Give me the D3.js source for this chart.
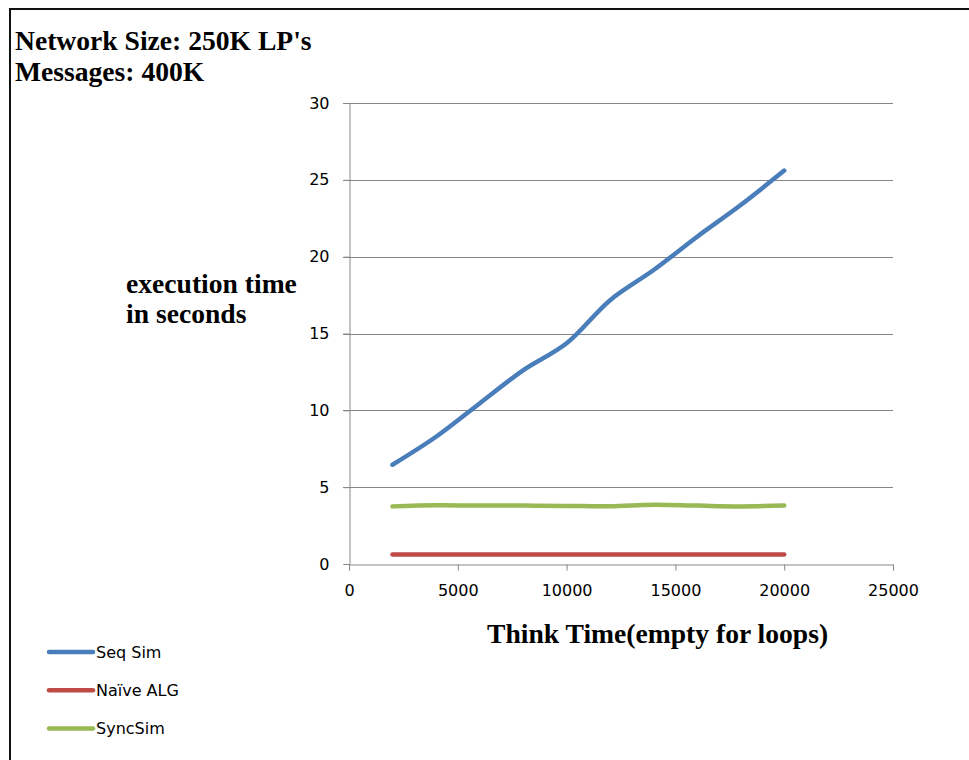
<!DOCTYPE html>
<html>
<head>
<meta charset="utf-8">
<script src="https://cdn.jsdelivr.net/npm/d3@7"></script>
<style>
  html, body { margin: 0; padding: 0; background: #fff; }
  svg { display: block; }
</style>
</head>
<body>
<svg id="chart" width="969" height="760"></svg>
<script>
// ---- data ----
const thinkTime = [2000, 4000, 6000, 8000, 10000, 12000, 14000, 16000, 18000, 20000];
const seqSim    = [6.46, 8.28, 10.45, 12.6, 14.36, 17.17, 19.13, 21.3, 23.36, 25.6];
const naiveAlg  = [0.62, 0.62, 0.62, 0.62, 0.62, 0.62, 0.62, 0.62, 0.62, 0.62];
const syncSim   = [3.75, 3.82, 3.8, 3.8, 3.78, 3.76, 3.86, 3.8, 3.75, 3.8];
const seriesNames = ["Seq Sim", "Naïve ALG", "SyncSim"];
const xTicks = [0, 5000, 10000, 15000, 20000, 25000];
const yTicks = [0, 5, 10, 15, 20, 25, 30];
const titleLines = ["Network Size: 250K LP's", "Messages: 400K"];
const yTitleLines = ["execution time", "in seconds"];
const xTitle = "Think Time(empty for loops)";

const colors = ["#4a7ebb", "#be4b48", "#98b954"];
const seriesValues = [seqSim, naiveAlg, syncSim];

const svg = d3.select("#chart");

// frame
svg.append("line").attr("x1", 10).attr("x2", 969).attr("y1", 9).attr("y2", 9)
  .attr("stroke", "#111").attr("stroke-width", 2);
svg.append("line").attr("x1", 10).attr("x2", 10).attr("y1", 8).attr("y2", 760)
  .attr("stroke", "#111").attr("stroke-width", 2);

const x = d3.scaleLinear().domain([0, 25000]).range([349, 893]);
const y = d3.scaleLinear().domain([0, 30]).range([564, 103]);

// gridlines
svg.append("g").selectAll("line").data(yTicks.filter(d => d > 0)).join("line")
  .attr("x1", x(0) - 6).attr("x2", x(25000))
  .attr("y1", d => Math.round(y(d)) + 0.5).attr("y2", d => Math.round(y(d)) + 0.5)
  .attr("stroke", "#868686").attr("stroke-width", 1);

const tickFont = "'DejaVu Sans', 'Open Sans', sans-serif";
const tickSize = "16px";

// y axis
const yAxis = svg.append("g")
  .attr("transform", `translate(${Math.round(x(0)) + 0.5},0)`)
  .call(d3.axisLeft(y).tickValues(yTicks).tickSize(6).tickPadding(14).tickFormat(d3.format("d")));
yAxis.selectAll("path, line").attr("stroke", "#868686");
yAxis.selectAll("text").attr("font-family", tickFont).attr("font-size", tickSize).attr("fill", "#000");

// x axis
const xAxis = svg.append("g")
  .attr("transform", `translate(0,${Math.round(y(0)) + 0.5})`)
  .call(d3.axisBottom(x).tickValues(xTicks).tickSize(6).tickPadding(14).tickFormat(d3.format("d")));
xAxis.selectAll("path, line").attr("stroke", "#868686");
xAxis.selectAll("text").attr("font-family", tickFont).attr("font-size", tickSize).attr("fill", "#000");

// lines
const line = d3.line()
  .x(d => x(d[0]))
  .y(d => y(d[1]))
  .curve(d3.curveCatmullRom.alpha(0.5));

seriesValues.forEach((vals, i) => {
  svg.append("path")
    .datum(thinkTime.map((t, j) => [t, vals[j]]))
    .attr("fill", "none")
    .attr("stroke", colors[i])
    .attr("stroke-width", 4.5)
    .attr("stroke-linecap", "round")
    .attr("stroke-linejoin", "round")
    .attr("d", line);
});

// titles
const serif = "'Liberation Serif', 'Times New Roman', serif";
const titleSize = "27.6px";
svg.append("g").selectAll("text").data(titleLines).join("text")
  .attr("x", 15).attr("y", (d, i) => 50 + i * 31)
  .attr("font-family", serif).attr("font-weight", "bold").attr("font-size", titleSize)
  .attr("fill", "#000").text(d => d);

svg.append("g").selectAll("text").data(yTitleLines).join("text")
  .attr("x", 126).attr("y", (d, i) => 293 + i * 30)
  .attr("font-family", serif).attr("font-weight", "bold").attr("font-size", titleSize)
  .attr("fill", "#000").text(d => d);

svg.append("text")
  .attr("x", 487).attr("y", 643)
  .attr("font-family", serif).attr("font-weight", "bold").attr("font-size", titleSize)
  .attr("fill", "#000").text(xTitle);

// legend
const legend = svg.append("g");
seriesNames.forEach((name, i) => {
  const ly = 652 + i * 38.3;
  legend.append("line")
    .attr("x1", 49).attr("x2", 93).attr("y1", ly).attr("y2", ly)
    .attr("stroke", colors[i]).attr("stroke-width", 4.5).attr("stroke-linecap", "round");
  legend.append("text")
    .attr("x", 96).attr("y", ly).attr("dy", "0.36em")
    .attr("font-family", tickFont).attr("font-size", tickSize).attr("fill", "#000")
    .text(name);
});
</script>
</body>
</html>
